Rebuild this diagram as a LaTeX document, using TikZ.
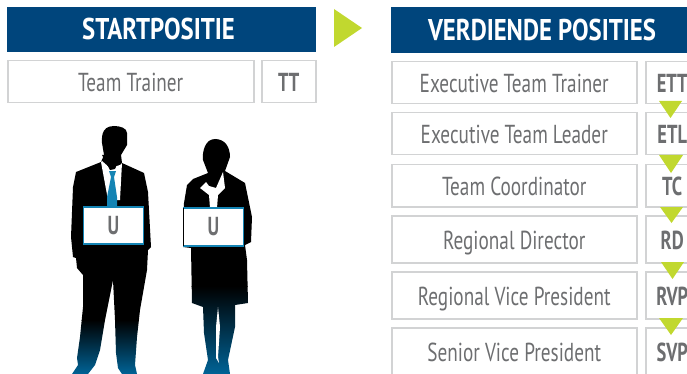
\documentclass[tikz,border=0pt]{standalone}
\usepackage{fontspec}
\setmainfont[FakeStretch=0.74,BoldFeatures={FakeStretch=0.71}]{PT Sans}
\newfontfamily\headfont[FakeStretch=0.825]{PT Sans}
\definecolor{headblue}{HTML}{00457C}
\definecolor{arrowgreen}{HTML}{C1D82F}
\definecolor{boxgrey}{HTML}{D2D3D4}
\definecolor{textgrey}{HTML}{6D6E70}
\definecolor{tieblue}{HTML}{1484B4}
\definecolor{legblue}{HTML}{006396}
\tikzset{
  headbox/.style={fill=headblue,text=white,font=\headfont\fontsize{30}{30}\selectfont\bfseries,anchor=north west,inner sep=0pt,outer sep=0pt},
  namebox/.style={draw=boxgrey,line width=1.5pt,text=textgrey,font=\fontsize{26}{26}\selectfont,anchor=north west,inner sep=0pt,outer sep=0pt,text height=20pt,text depth=0pt},
  codebox/.style={namebox,font=\fontsize{26}{26}\selectfont\bfseries},
  cardbox/.style={draw=tieblue,line width=1.2pt,fill=white,text=textgrey,font=\fontsize{26}{26}\selectfont\bfseries,anchor=north west,inner sep=0pt,outer sep=0pt,minimum width=60pt,minimum height=37pt},
  downtip/.style={fill=arrowgreen}
}
\begin{document}
\begin{tikzpicture}[x=1pt,y=-1pt]
  \clip (0,0) rectangle (687,374);

  % Left column
  \node[headbox,minimum width=309pt,minimum height=45pt] (starthead) at (7,7) {\hspace*{-6pt}STARTPOSITIE};
  \node[namebox,minimum width=246pt,minimum height=42pt] (startname) at (7.75,60.75) {Team Trainer};
  \node[codebox,minimum width=54pt,minimum height=42pt] (startcode) at (261.75,60.75) {TT};

  % Arrow
  \fill[arrowgreen] (334,9) -- (362,28) -- (334,47) -- cycle;

  % Man
  \begin{scope}
    \clip (114,126) .. controls (100,126) and (102,140) .. (102,143) -- (104,155) -- (101,162) -- (76,172) -- (73,187) -- (71,237) -- (73,257) -- (76,258) -- (77,268) -- (83,275) -- (83,307) -- (80,337) -- (77,358) -- (78,365) -- (72,374) -- (88,374) -- (95,365) -- (100,350) -- (105,320) -- (113,280) -- (115,320) -- (116,353) -- (118,368) -- (122,374) -- (137,374) -- (135,365) -- (137,337) -- (140,310) -- (147,270) -- (148,250) -- (151,247) -- (148,192) -- (144,173) -- (122,163) -- (121,155) -- (127,145) -- (127,133) .. controls (127,128) and (120,126) .. (114,126) -- cycle;
    \fill[black] (60,120) rectangle (160,321);
    \shade[top color=black,bottom color=legblue] (60,320) rectangle (160,374);
  \end{scope}
  \fill[white] (101,162) -- (102,161) -- (110,168) -- (120,165) -- (122,163) -- (120,200) -- (108,200) -- cycle;
  \fill[black] (102,155) -- (110,170) -- (115,169) -- (121,155) -- cycle;
  \fill[tieblue] (109,171) -- (116,171) -- (114,177) -- (117,197) -- (117,207) -- (107,207) -- (107,197) -- (111,177) -- cycle;
  \node[cardbox] (mancard) at (83.5,207) {U};

  % Woman
  \begin{scope}
    \clip (215,139) .. controls (205,139) and (202,152) .. (203,160) -- (208,173) -- (193,179) -- (187,185) -- (184,203) -- (183,247) -- (191,248) -- (192,303) -- (203,307) -- (204,333) -- (208,360) -- (203,374) -- (230,374) -- (228,360) -- (235,327) -- (235,305) -- (248,303) -- (247,260) -- (245,245) -- (251,242) -- (252,217) -- (245,183) -- (225,171) -- (230,157) .. controls (230,147) and (225,139) .. (215,139) -- cycle;
    \fill[black] (175,130) rectangle (260,287);
    \shade[top color=black,bottom color=legblue] (175,286) rectangle (260,374);
  \end{scope}
  \fill[white] (206,182) -- (200,188) -- (209,195) -- (210,208) -- (217,208) -- (218,195) -- (225,188) -- (223,172) -- (216,188) -- (209,186) -- cycle;
  \fill[white] (218,307) -- (220,327) -- (218,357) -- (219,363) -- (216,358) -- (216,327) -- cycle;
  \node[cardbox,minimum height=38pt] (womancard) at (183.5,208) {U};
  \draw[black,line width=1.2pt] (womancard.north west) -- (womancard.south west);

  % Right column
  \node[headbox,minimum width=296pt,minimum height=46pt] (earnhead) at (391,7) {\hspace*{6pt}VERDIENDE POSITIES};

  \node[namebox,minimum width=245pt,minimum height=42pt] (ettname) at (391.75,61.75) {Executive Team Trainer};
  \node[codebox,minimum width=53pt,minimum height=42pt] (ettcode) at (645.75,61.75) {ETT};

  \node[namebox,minimum width=245pt,minimum height=42pt] (etlname) at (391.75,112.75) {Executive Team Leader};
  \node[codebox,minimum width=53pt,minimum height=42pt] (etlcode) at (645.75,112.75) {ETL};

  \node[namebox,minimum width=245pt,minimum height=42pt] (tcname) at (391.75,164.75) {Team Coordinator};
  \node[codebox,minimum width=53pt,minimum height=42pt] (tccode) at (645.75,164.75) {TC};

  \node[namebox,minimum width=245pt,minimum height=47pt] (rdname) at (391.75,215.75) {Regional Director};
  \node[codebox,minimum width=53pt,minimum height=47pt] (rdcode) at (645.75,215.75) {RD};

  \node[namebox,minimum width=245pt,minimum height=47pt] (rvpname) at (391.75,271.75) {Regional Vice President};
  \node[codebox,minimum width=53pt,minimum height=47pt] (rvpcode) at (645.75,271.75) {RVP};

  \node[namebox,minimum width=245pt,minimum height=47pt] (svpname) at (391.75,327.75) {Senior Vice President};
  \node[codebox,minimum width=53pt,minimum height=47pt] (svpcode) at (645.75,327.75) {SVP};

  % Down arrows
  \fill[downtip] (659,101) -- (682,101) -- (670.5,118) -- cycle;
  \fill[downtip] (659,155) -- (683,155) -- (671,173) -- cycle;
  \fill[downtip] (660,207) -- (683,207) -- (671.5,223) -- cycle;
  \fill[downtip] (661,262) -- (684,262) -- (672.5,279) -- cycle;
  \fill[downtip] (659,318) -- (683,318) -- (671,335) -- cycle;
\end{tikzpicture}
\end{document}
